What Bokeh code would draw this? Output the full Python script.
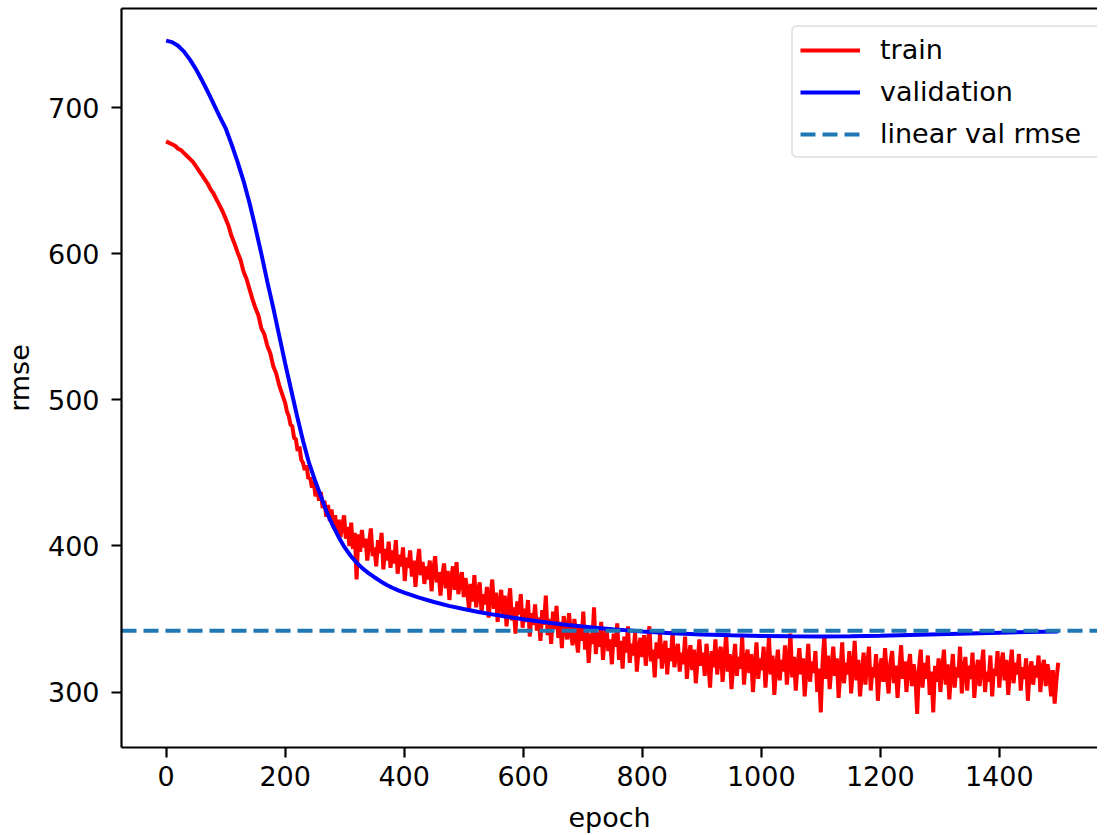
from bokeh.plotting import figure
from bokeh.models import (Range1d, FixedTicker, LinearAxis, Legend, LegendItem)
from bokeh.embed import file_html
from bokeh.resources import INLINE

# ---- data ----
# epochs 0-195 every 5 epochs (smooth part), then 200-1499 every 3 epochs (noisy part)
train_epoch = list(range(0, 200, 5)) + list(range(200, 1500, 3))
train_rmse = [
    # 0 .. 195
    677, 676, 675, 674, 672, 671, 669, 667, 665, 663, 660, 657, 654, 651, 648, 644, 641, 637, 633, 629,
    624, 619, 612, 607, 601, 596, 588, 583, 576, 569, 563, 558, 549, 545, 537, 532, 523, 518, 510, 504,
    # 200 .. 257
    498, 492, 489, 483, 482, 474, 473, 465, 468, 459, 457, 452, 455, 446, 447, 440, 444, 434, 438, 431,
    # 260 .. 317
    437, 426, 431, 420, 428, 417, 425, 413, 421, 409, 418, 406, 414, 421, 405, 413, 400, 416, 398, 409,
    # 320 .. 377
    377, 408, 396, 411, 399, 405, 390, 402, 412, 393, 399, 386, 404, 395, 409, 384, 398, 390, 403, 385,
    # 380 .. 437
    397, 388, 404, 381, 394, 386, 399, 376, 392, 385, 397, 379, 390, 372, 387, 398, 380, 389, 374, 386,
    # 440 .. 497
    377, 390, 369, 384, 393, 375, 382, 366, 380, 388, 371, 383, 363, 378, 386, 370, 389, 367, 376, 382,
    # 500 .. 557
    365, 378, 370, 356, 374, 362, 380, 358, 369, 375, 354, 367, 360, 372, 351, 365, 377, 357, 368, 348,
    # 560 .. 617
    362, 370, 352, 366, 345, 360, 371, 349, 358, 340, 362, 353, 367, 344, 357, 348, 363, 338, 354, 346,
    # 620 .. 677
    360, 342, 351, 335, 356, 346, 366, 339, 350, 333, 355, 343, 359, 337, 348, 330, 352, 344, 336, 354,
    # 680 .. 737
    341, 332, 350, 338, 327, 346, 335, 355, 329, 343, 320, 340, 333, 358, 326, 341, 331, 348, 322, 337,
    # 740 .. 797
    344, 328, 336, 319, 340, 331, 347, 322, 335, 316, 338, 327, 345, 320, 333, 325, 341, 314, 330, 337,
    # 800 .. 857
    324, 339, 318, 331, 345, 321, 329, 310, 334, 323, 340, 316, 328, 335, 312, 330, 321, 342, 317, 326,
    # 860 .. 917
    333, 314, 327, 319, 338, 309, 325, 332, 315, 329, 306, 321, 336, 318, 327, 311, 333, 320, 303, 328,
    # 920 .. 977
    317, 336, 312, 325, 331, 307, 322, 340, 314, 326, 302, 319, 333, 311, 324, 316, 338, 305, 321, 329,
    # 980 .. 1037
    313, 326, 300, 318, 334, 309, 323, 315, 331, 303, 320, 337, 312, 325, 298, 317, 329, 308, 322, 314,
    # 1040 .. 1097
    332, 305, 319, 340, 310, 324, 301, 318, 330, 312, 323, 297, 315, 333, 307, 321, 313, 328, 300, 316,
    # 1100 .. 1157
    286, 320, 339, 309, 325, 302, 317, 331, 311, 323, 296, 314, 334, 306, 320, 312, 328, 299, 316, 335,
    # 1160 .. 1217
    308, 322, 297, 313, 327, 305, 319, 331, 301, 317, 310, 326, 294, 315, 323, 307, 330, 312, 299, 320,
    # 1220 .. 1277
    328, 306, 318, 296, 315, 332, 309, 321, 300, 317, 326, 304, 319, 311, 285, 316, 329, 303, 320, 309,
    # 1280 .. 1337
    325, 298, 314, 286, 318, 307, 323, 300, 316, 329, 305, 319, 295, 312, 326, 303, 317, 310, 331, 299,
    # 1340 .. 1397
    315, 324, 301, 318, 309, 327, 296, 313, 322, 304, 317, 329, 300, 314, 307, 325, 297, 316, 311, 328,
    # 1400 .. 1457
    303, 319, 327, 308, 322, 298, 315, 329, 306, 320, 312, 326, 301, 317, 309, 323, 294, 314, 321, 305,
    # 1460 .. 1499
    318, 310, 325, 300, 316, 322, 304, 319, 312, 297, 315, 292, 308, 320,
]

val_epoch = [0, 10, 20, 30, 40, 50, 60, 70, 80, 90, 100, 110, 120, 130, 140, 150, 160, 170, 180, 190,
             200, 210, 220, 230, 240, 250, 260, 270, 280, 290, 300, 310, 320, 330, 340, 350, 360, 370,
             380, 390, 400, 425, 450, 475, 500, 525, 550, 575, 600, 625, 650, 675, 700, 725, 750, 775,
             800, 850, 900, 950, 1000, 1050, 1100, 1150, 1200, 1250, 1300, 1350, 1400, 1450, 1499]
val_rmse = [746, 745, 742.5, 738.5, 733, 726.5, 719, 711, 702.5, 694, 686, 675, 663, 650, 635, 618, 600,
            581, 563, 544, 525, 507, 489, 472, 457, 445, 434, 423, 414, 406, 399, 393.3, 388.6, 384.6, 381.4,
            378.6, 375.9, 373.5, 371.4, 369.6, 368, 364.6, 361.6, 359, 356.8, 354.8, 353, 351.3, 349.8, 348.4,
            347.1, 345.9, 344.8, 343.9, 343, 342.2, 341.5, 340.3, 339.4, 338.8, 338.4, 338.1, 338, 338.2,
            338.6, 339.1, 339.6, 340.1, 340.6, 341.1, 341.5]

linear_val_rmse = 342

x_ticks = [0, 200, 400, 600, 800, 1000, 1200, 1400]
y_ticks = [300, 400, 500, 600, 700]

FONT = "DejaVu Sans"
FS = "27px"

p = figure(width=1097, height=835, output_backend="svg", toolbar_location=None,
           x_range=Range1d(-75, 1565), y_range=Range1d(262, 768),
           min_border_left=113, min_border_right=0, min_border_top=8, min_border_bottom=86)
p.outline_line_color = None
p.grid.visible = False
p.background_fill_color = "white"
p.border_fill_color = "white"

r_train = p.line(train_epoch, train_rmse, line_color="red", line_width=4)
r_val = p.line(val_epoch, val_rmse, line_color="blue", line_width=4)
r_lin = p.line([-75, 1565], [linear_val_rmse, linear_val_rmse], line_color="#1f77b4",
               line_width=4, line_dash="15 7")

for ax in (p.xaxis[0], p.yaxis[0]):
    ax.axis_line_color = "black"
    ax.axis_line_width = 2.2
    ax.major_tick_line_color = "black"
    ax.major_tick_line_width = 2.2
    ax.major_tick_in = 0
    ax.major_tick_out = 10
    ax.minor_tick_line_color = None
    ax.major_label_text_font = FONT
    ax.major_label_text_font_size = FS
    ax.major_label_text_color = "black"
    ax.axis_label_text_font = FONT
    ax.axis_label_text_font_size = FS
    ax.axis_label_text_font_style = "normal"
    ax.axis_label_text_color = "black"

p.xaxis[0].ticker = FixedTicker(ticks=x_ticks)
p.yaxis[0].ticker = FixedTicker(ticks=y_ticks)
p.xaxis[0].axis_label = "epoch"
p.yaxis[0].axis_label = "rmse"
p.xaxis[0].major_label_standoff = 8
p.xaxis[0].axis_label_standoff = 13
p.yaxis[0].major_label_standoff = 12
p.yaxis[0].axis_label_standoff = 10

top = LinearAxis(ticker=FixedTicker(ticks=[]), major_label_text_font_size="0px",
                 major_tick_out=0, major_tick_in=0, minor_tick_line_color=None,
                 axis_line_color="black", axis_line_width=2.2)
p.add_layout(top, "above")

legend = Legend(items=[
    LegendItem(label="train", renderers=[r_train]),
    LegendItem(label="validation", renderers=[r_val]),
    LegendItem(label="linear val rmse", renderers=[r_lin]),
], location=(670, 589), margin=0, padding=7, spacing=11,
    glyph_width=60, glyph_height=30, label_height=30, label_width=212, label_standoff=20,
    label_text_font=FONT, label_text_font_size=FS, label_text_color="black",
    border_line_color="#cccccc", border_line_width=2, border_radius=6,
    background_fill_color="white", background_fill_alpha=0.8)
p.add_layout(legend, "center")

open("out.html", "w").write(file_html(p, INLINE))
